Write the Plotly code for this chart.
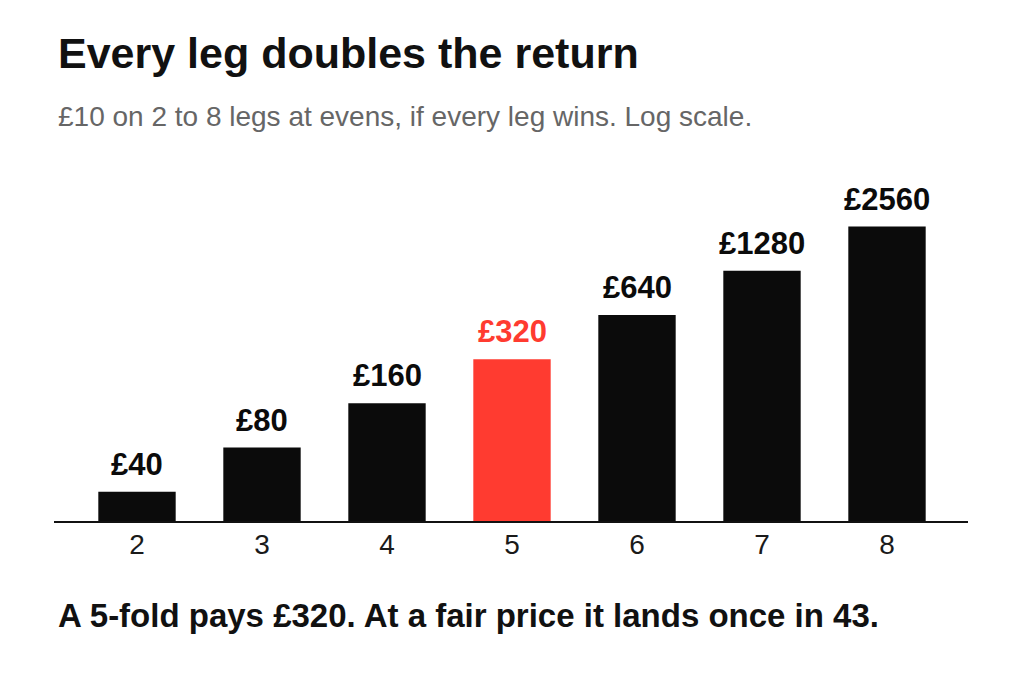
import math
import plotly.graph_objects as go

legs = ["2", "3", "4", "5", "6", "7", "8"]
returns = [40, 80, 160, 320, 640, 1280, 2560]
highlight = "5"

title_text = "Every leg doubles the return"
subtitle_text = "£10 on 2 to 8 legs at evens, if every leg wins. Log scale."
footer_text = "A 5-fold pays £320. At a fair price it lands once in 43."

BLACK = "#0b0b0b"
RED = "#ff3b30"
colors = [RED if l == highlight else BLACK for l in legs]

FONT = "Liberation Sans, Arial, sans-serif"
OFF = 8  # page body margin
W, H = 1024, 682
ML, MR, MT, MB = 54 - OFF, 64, 190 - OFF, 169
plot_h = H - MT - MB

fig = go.Figure(go.Bar(
    x=legs, y=returns,
    marker=dict(color=colors, line=dict(width=0)),
    cliponaxis=False, hoverinfo="skip",
))

def py(pix):
    # screenshot pixel -> paper y
    return (H - MB - (pix - OFF)) / plot_h

annotations = [
    dict(text=f"<b>{title_text}</b>", xref="paper", yref="paper", x=0, xshift=2, y=py(53),
         xanchor="left", yanchor="middle", showarrow=False,
         font=dict(size=43, color="#111")),
    dict(text=subtitle_text, xref="paper", yref="paper", x=0, xshift=2, y=py(117),
         xanchor="left", yanchor="middle", showarrow=False,
         font=dict(size=28, color="#666")),
    dict(text=f"<b>{footer_text}</b>", xref="paper", yref="paper", x=0, xshift=2, y=py(615),
         xanchor="left", yanchor="middle", showarrow=False,
         font=dict(size=33, color="#111")),
]
for i, (leg, val, col) in enumerate(zip(legs, returns, colors)):
    annotations.append(dict(
        text=f"<b>£{val}</b>", x=i, y=math.log10(val), xref="x", yref="y",
        xanchor="center", yanchor="bottom", yshift=8, showarrow=False,
        font=dict(size=31, color=col),
    ))

fig.update_layout(
    width=W, height=H,
    margin=dict(l=ML, r=MR, t=MT, b=MB),
    paper_bgcolor="white", plot_bgcolor="white",
    showlegend=False, bargap=0.381,
    font=dict(family=FONT, color="#111"),
    xaxis=dict(type="category", range=[-0.664, 6.648], showline=True, linecolor="#111",
               linewidth=2, ticks="", showgrid=False, zeroline=False,
               tickfont=dict(size=28, color="#1a1a1a"), ticklabelstandoff=-3,
               fixedrange=True),
    yaxis=dict(type="log", range=[1.4025, 3.6573], visible=False, showgrid=False, fixedrange=True),
    annotations=annotations,
)

fig.write_html("out.html")
